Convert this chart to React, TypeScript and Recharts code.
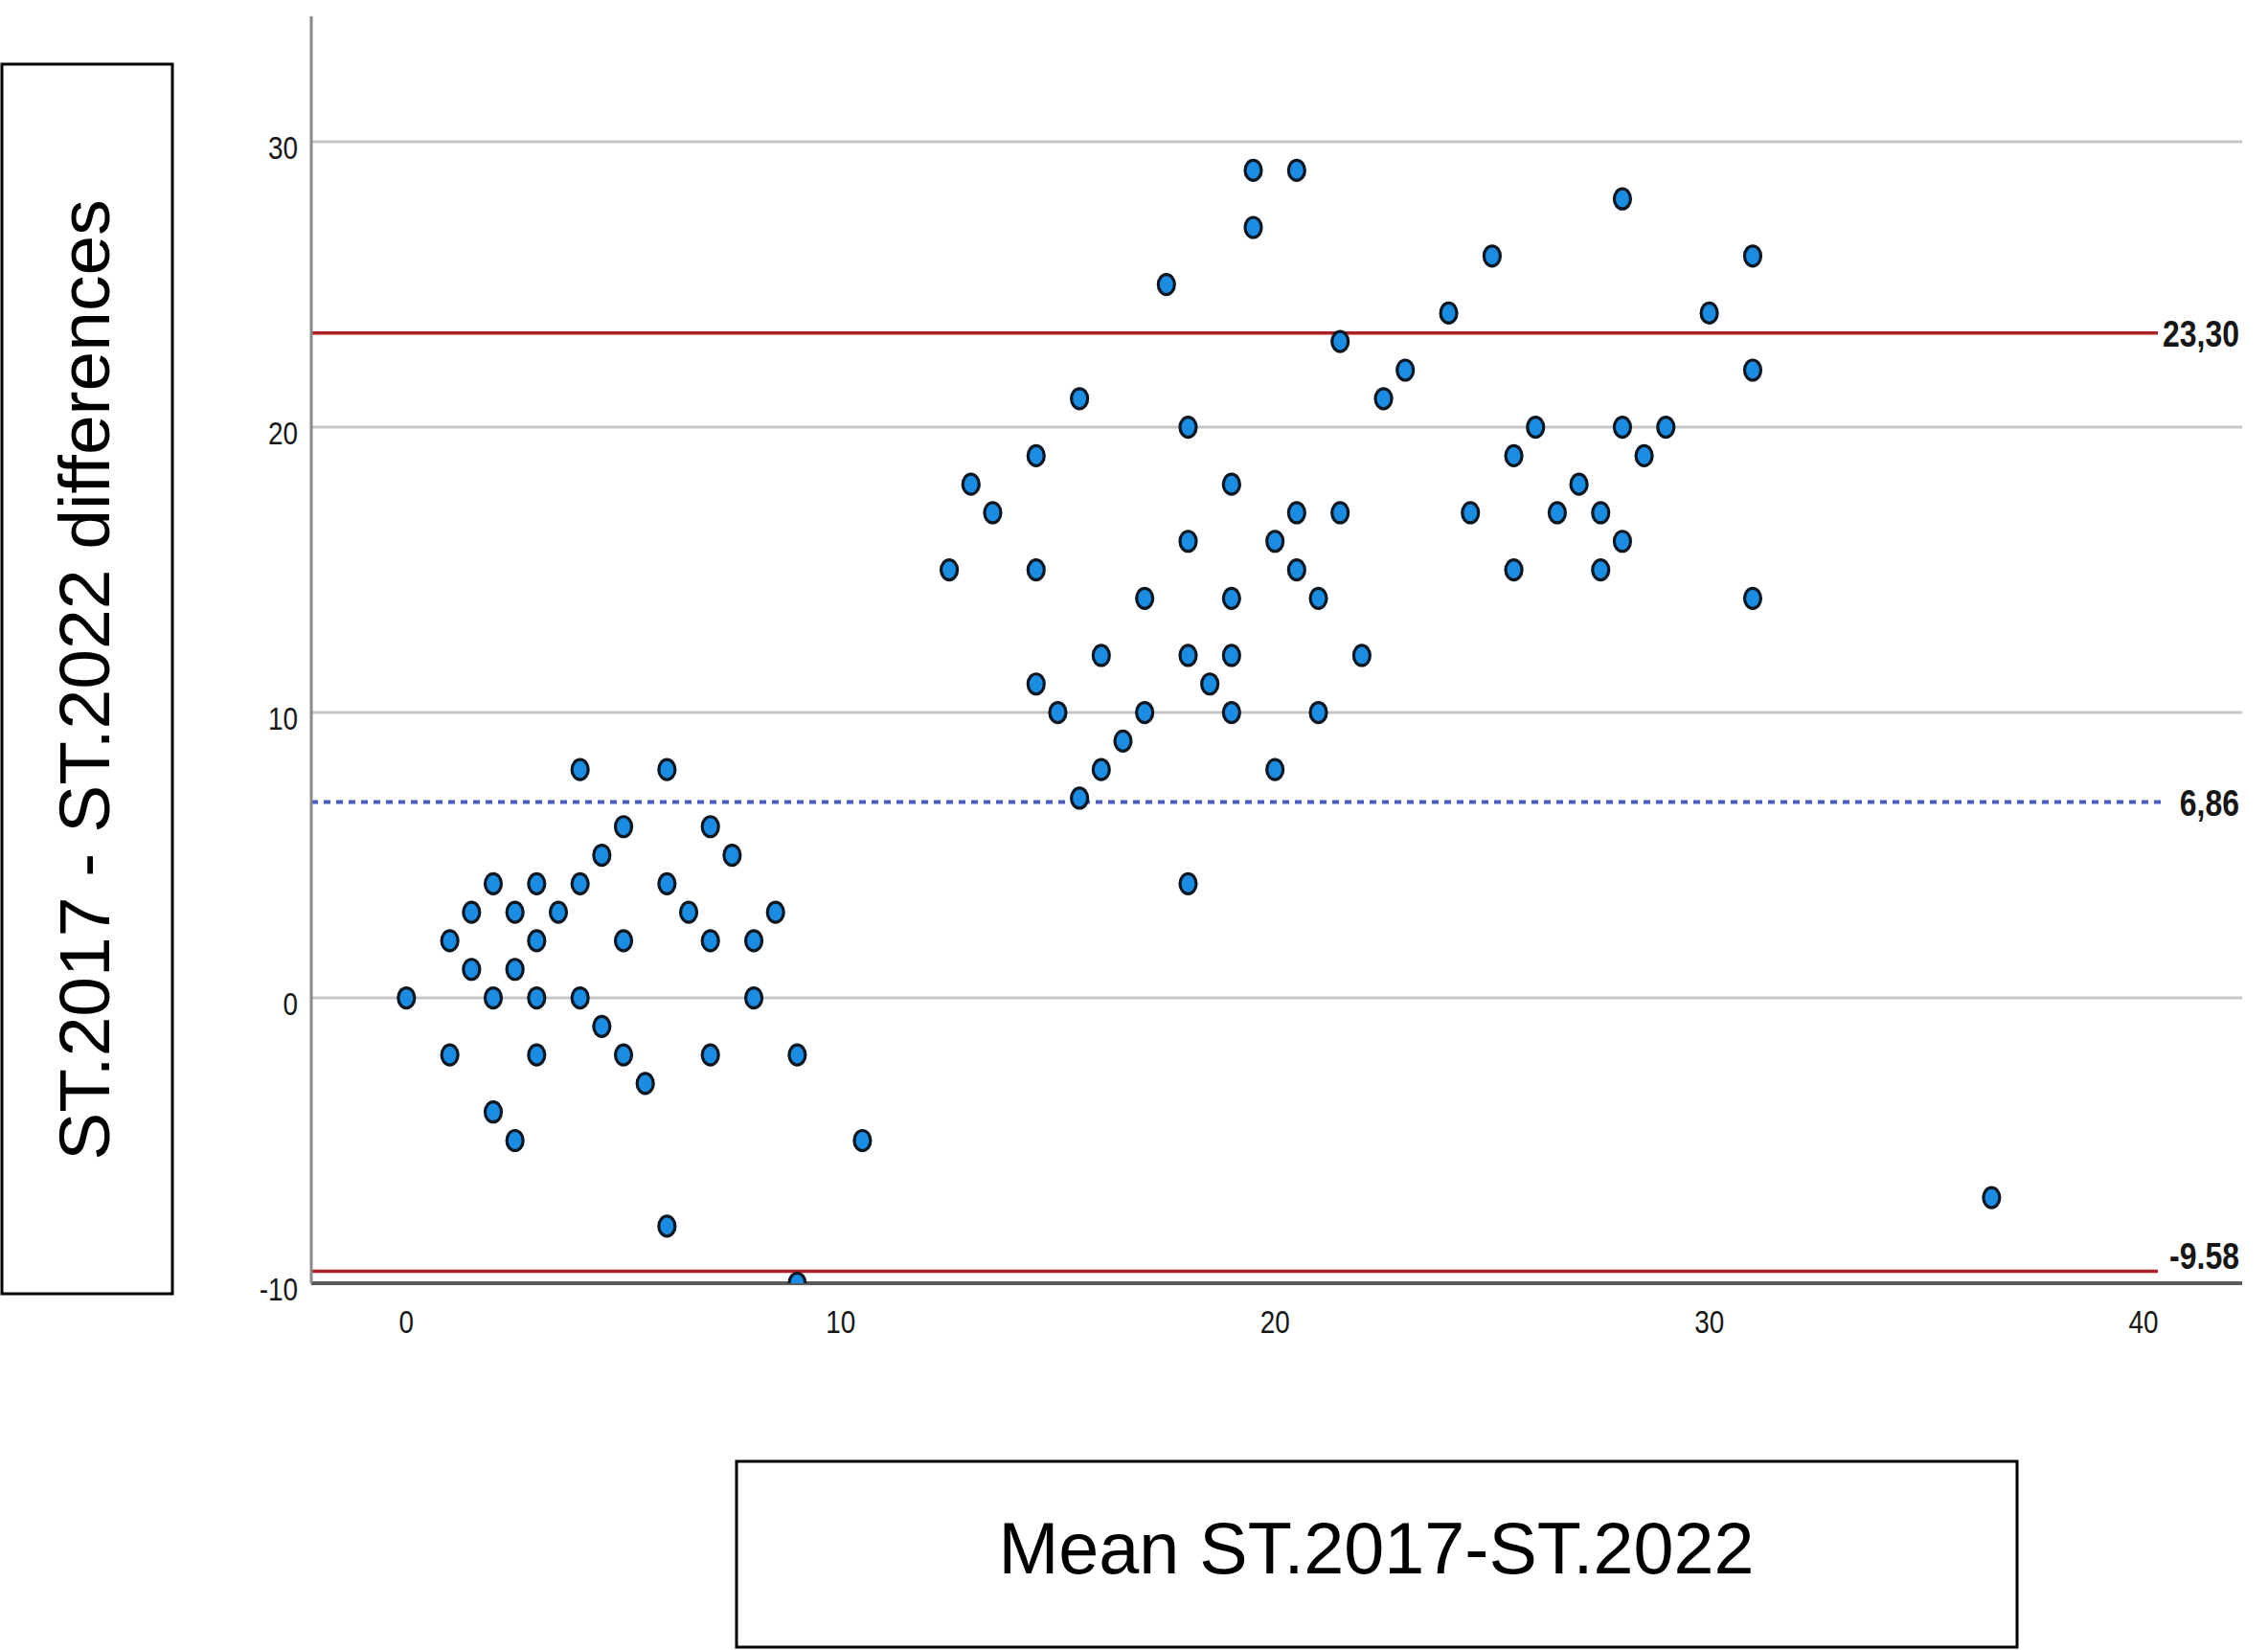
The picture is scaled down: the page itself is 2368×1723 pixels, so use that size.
import React from 'react';
import { ScatterChart, Scatter, XAxis, YAxis, CartesianGrid, ReferenceLine } from 'recharts';

// Mean of ST.2017 and ST.2022 (x) and their difference (y)
const meanValues = [
  0, 1, 1, 1.5, 1.5, 2, 2, 2, 2.5, 2.5, 2.5, 3, 3, 3, 3, 3.5, 4, 4, 4, 4.5, 4.5, 5, 5, 5, 5.5, 6, 6, 6, 6.5, 7, 7, 7, 7.5, 8, 8, 8.5, 9, 9, 10.5,
  12.5, 13, 13.5, 14.5, 14.5, 14.5, 15, 15.5, 15.5, 16, 16, 16.5, 17, 17, 17.5, 18, 18, 18, 18, 18.5, 19, 19, 19, 19, 19.5, 19.5, 20, 20, 20.5, 20.5, 20.5, 21, 21, 21.5, 21.5, 22, 22.5, 23,
  24, 24.5, 25, 25.5, 25.5, 26, 26.5, 27, 27.5, 27.5, 28, 28, 28, 28.5, 29, 30, 31, 31, 31, 36.5,
];
const differenceValues = [
  0, 2, -2, 3, 1, 4, 0, -4, 3, 1, -5, 4, 2, 0, -2, 3, 8, 4, 0, 5, -1, 6, 2, -2, -3, 8, 4, -8, 3, 6, 2, -2, 5, 2, 0, 3, -2, -10, -5,
  15, 18, 17, 19, 15, 11, 10, 21, 7, 12, 8, 9, 14, 10, 25, 20, 16, 12, 4, 11, 18, 14, 12, 10, 29, 27, 16, 8, 29, 17, 15, 14, 10, 23, 17, 12, 21, 22,
  24, 17, 26, 19, 15, 20, 17, 18, 17, 15, 28, 20, 16, 19, 20, 24, 26, 22, 14, -7,
];

const xTicks = [0, 10, 20, 30, 40];
const yTicks = [-10, 0, 10, 20, 30];
const gridValues = [0, 10, 20, 30];

const upperLimit = 23.3;
const meanDifference = 6.86;
const lowerLimit = -9.58;
const upperLabel = '23,30';
const meanLabel = '6,86';
const lowerLabel = '-9.58';

const yTitle = 'ST.2017 - ST.2022 differences';
const xTitle = 'Mean ST.2017-ST.2022';

const data = meanValues.map((m, i) => ({ mean: m, diff: differenceValues[i] }));

const SANS = "'Liberation Sans', Arial, sans-serif";

const NarrowText = (props: any) => {
  const { x, y, anchor, size, bold, children } = props;
  return (
    <text
      transform={`translate(${x},${y}) scale(0.82,1)`}
      x={0}
      y={0}
      textAnchor={anchor}
      fontFamily={SANS}
      fontSize={size}
      fontWeight={bold ? 'bold' : 'normal'}
      fill="#161616"
    >
      {children}
    </text>
  );
};

const XTick = (props: any) => {
  const { x, y, payload } = props;
  return (
    <NarrowText x={x} y={y + 52} anchor="middle" size={34}>
      {payload.value}
    </NarrowText>
  );
};

const YTick = (props: any) => {
  const { x, y, payload } = props;
  return (
    <NarrowText x={x - 14} y={y + 18} anchor="end" size={34}>
      {payload.value}
    </NarrowText>
  );
};

const Dot = (props: any) => {
  const { cx, cy } = props;
  if (cx == null || cy == null) return null;
  return <ellipse cx={cx} cy={cy} rx={8.5} ry={10.5} fill="#1a8ce2" stroke="#0c1722" strokeWidth={3.2} />;
};

const makeLimitShape = (label: string, color: string, width: number, dash: string | undefined, gap: number, above: boolean) =>
  (props: any) => {
    const { x1, y1, x2 } = props;
    const end = Math.max(x1, x2);
    const start = Math.min(x1, x2);
    return (
      <g>
        <line x1={start} y1={y1} x2={end - gap} y2={y1} stroke={color} strokeWidth={width} strokeDasharray={dash} />
        <NarrowText x={end - 3} y={above ? y1 - 2 : y1 + 14} anchor="end" size={39} bold>
          {label}
        </NarrowText>
      </g>
    );
  };

export default function App() {
  return (
    <div style={{ position: 'absolute', left: 0, top: 0, width: 2368, height: 1723, background: '#fff' }}>
      <ScatterChart
        width={2368}
        height={1723}
        margin={{ top: 17, right: 27, bottom: 323, left: 265 }}
      >
        <CartesianGrid
          horizontal
          vertical={false}
          horizontalValues={gridValues}
          stroke="#c6c6c6"
          strokeWidth={3}
        />
        <XAxis
          type="number"
          dataKey="mean"
          domain={[-2.19, 42.27]}
          ticks={xTicks}
          allowDataOverflow
          height={60}
          tickLine={false}
          tickSize={0}
          tickMargin={0}
          axisLine={{ stroke: '#5a5a5a', strokeWidth: 4 }}
          tick={<XTick />}
          interval={0}
        />
        <YAxis
          type="number"
          dataKey="diff"
          domain={[-10, 34.4]}
          ticks={yTicks}
          allowDataOverflow
          width={60}
          tickLine={false}
          tickSize={0}
          tickMargin={0}
          axisLine={{ stroke: '#8a8a8a', strokeWidth: 3 }}
          tick={<YTick />}
          interval={0}
        />
        <ReferenceLine
          y={upperLimit}
          stroke="#b0262b"
          shape={makeLimitShape(upperLabel, '#ac2128', 3.5, undefined, 88, false)}
        />
        <ReferenceLine
          y={meanDifference}
          stroke="#4a5fc1"
          shape={makeLimitShape(meanLabel, '#4a5cc0', 4, '7 6', 79, false)}
        />
        <ReferenceLine
          y={lowerLimit}
          stroke="#b0262b"
          shape={makeLimitShape(lowerLabel, '#ac2128', 3.5, undefined, 88, true)}
        />
        <Scatter data={data} shape={<Dot />} isAnimationActive={false} />
      </ScatterChart>
      <svg
        width={2368}
        height={1723}
        style={{ position: 'absolute', left: 0, top: 0, pointerEvents: 'none' }}
      >
        <rect x={2} y={67} width={178} height={1284} fill="none" stroke="#000" strokeWidth={3} />
        <text
          transform="translate(114, 710) rotate(-90)"
          textAnchor="middle"
          fontFamily={SANS}
          fontSize={75}
          fill="#000"
        >
          {yTitle}
        </text>
        <rect x={769} y={1526} width={1337} height={194} fill="none" stroke="#000" strokeWidth={3} />
        <text x={1437} y={1643} textAnchor="middle" fontFamily={SANS} fontSize={75.5} fill="#000">
          {xTitle}
        </text>
      </svg>
    </div>
  );
}
